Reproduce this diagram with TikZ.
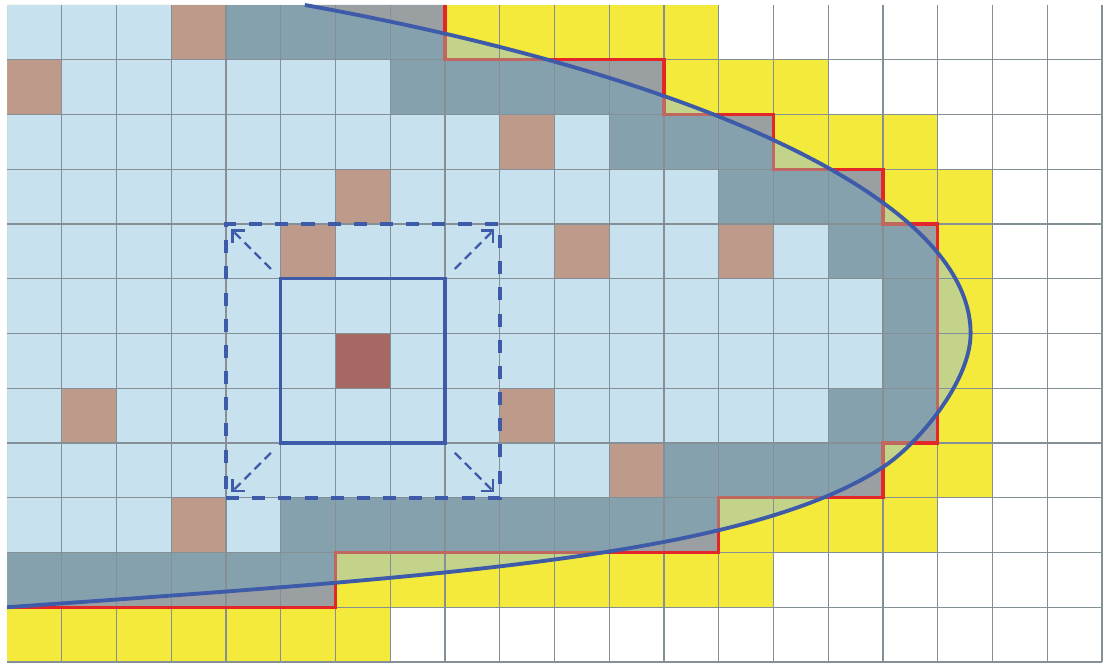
\documentclass[tikz,border=0pt]{standalone}
\usetikzlibrary{arrows.meta,calc}
\definecolor{cL}{HTML}{C8E1EE}
\definecolor{cT}{HTML}{BE9A8A}
\definecolor{cD}{HTML}{A56862}
\definecolor{cS}{HTML}{86A1AE}
\definecolor{cY}{HTML}{F4EA3B}
\definecolor{cW}{HTML}{FFFFFF}
\definecolor{cGray}{HTML}{9A9FA2}
\definecolor{cGreen}{HTML}{C3D38A}
\definecolor{cRed}{HTML}{E3262A}
\definecolor{cRedM}{HTML}{C0675F}
\definecolor{cBlue}{HTML}{3D5BA9}
\definecolor{cGrid}{HTML}{859096}
\tikzset{
  gridline/.style={cGrid, line width=0.55pt},
  redline/.style={cRed, line width=1.6pt, line join=miter},
  redmuted/.style={cRedM, line width=1.6pt, line join=miter},
  curveline/.style={cBlue, line width=2pt},
  solidsq/.style={draw=cBlue, line width=1.6pt, minimum size=3cm, inner sep=0pt, outer sep=0pt},
  dashsq/.style={draw=cBlue, line width=1.9pt, dash pattern=on 6.8pt off 6.8pt, minimum size=5cm, inner sep=0pt, outer sep=0pt},
  growarrow/.style={cBlue, line width=1.2pt, dash pattern=on 4.6pt off 2.8pt, -{Straight Barb[length=4.5pt,width=9pt]}}
}
\def\curveto{.. controls (12.44,-1.26) and (17.6,-3.5) .. (17.6,-6) .. controls (17.6,-6.9) and (16.6,-8.05) .. (16,-8.44) .. controls (13.5,-10.065) and (8,-10.44) .. (0,-11)}
\def\redpoly{(0,0) -- (8,0) -- (8,-1) -- (12,-1) -- (12,-2) -- (14,-2) -- (14,-3) -- (16,-3) -- (16,-4) -- (17,-4) -- (17,-8) -- (16,-8) -- (16,-9) -- (13,-9) -- (13,-10) -- (6,-10) -- (6,-11) -- (0,-11) -- cycle}
\def\redstair{(0,-11) -- (6,-11) -- (6,-10) -- (13,-10) -- (13,-9) -- (16,-9) -- (16,-8) -- (17,-8) -- (17,-4) -- (16,-4) -- (16,-3) -- (14,-3) -- (14,-2) -- (12,-2) -- (12,-1) -- (8,-1) -- (8,0)}
\def\insideclip{(-0.5,0.5) -- (5.44,0.5) -- (5.44,0) \curveto -- (-0.5,-11) -- cycle}
\def\outsideclip{(20.5,0.5) -- (5.44,0.5) -- (5.44,0) \curveto -- (-0.5,-11) -- (-0.5,-12.5) -- (20.5,-12.5) -- cycle}
\begin{document}
\begin{tikzpicture}[x=1cm,y=1cm]
\useasboundingbox[fill=white] (-0.128,0.091) rectangle (20.146,-12.146);
% cells
\foreach \r/\row in {
 0/{L,L,L,T,S,S,S,S,Y,Y,Y,Y,Y,W,W,W,W,W,W,W},
 1/{T,L,L,L,L,L,L,S,S,S,S,S,Y,Y,Y,W,W,W,W,W},
 2/{L,L,L,L,L,L,L,L,L,T,L,S,S,S,Y,Y,Y,W,W,W},
 3/{L,L,L,L,L,L,T,L,L,L,L,L,L,S,S,S,Y,Y,W,W},
 4/{L,L,L,L,L,T,L,L,L,L,T,L,L,T,L,S,S,Y,W,W},
 5/{L,L,L,L,L,L,L,L,L,L,L,L,L,L,L,L,S,Y,W,W},
 6/{L,L,L,L,L,L,D,L,L,L,L,L,L,L,L,L,S,Y,W,W},
 7/{L,T,L,L,L,L,L,L,L,T,L,L,L,L,L,S,S,Y,W,W},
 8/{L,L,L,L,L,L,L,L,L,L,L,T,S,S,S,S,Y,Y,W,W},
 9/{L,L,L,T,L,S,S,S,S,S,S,S,S,Y,Y,Y,Y,W,W,W},
 10/{S,S,S,S,S,S,Y,Y,Y,Y,Y,Y,Y,Y,W,W,W,W,W,W},
 11/{Y,Y,Y,Y,Y,Y,Y,W,W,W,W,W,W,W,W,W,W,W,W,W}}{
  \foreach \c [count=\i from 0] in \row {
    \fill[fill=c\c] (\i,-\r) rectangle ++(1,-1);
  }
}
% gray: inside the staircase, outside the curve
\begin{scope}
  \clip \outsideclip;
  \fill[cGray] \redpoly;
\end{scope}
% green: outside the staircase, inside the curve
\begin{scope}
  \clip \insideclip;
  \fill[cGreen, even odd rule] (0,0) rectangle (20,-12) \redpoly;
\end{scope}
% grid
\foreach \x in {1,...,20} \draw[gridline] (\x,0) -- (\x,-12);
\foreach \y in {1,...,12} \draw[gridline] (0,-\y) -- (20,-\y);
% staircase boundary
\draw[redline] \redstair;
\begin{scope}
  \clip \insideclip;
  \draw[redmuted] \redstair;
\end{scope}
% curve
\draw[curveline] (5.44,0) \curveto;
% squares
\node[solidsq] (inner) at (6.5,-6.5) {};
\node[dashsq] (outer) at (6.5,-6.5) {};
\draw[growarrow] ($(inner.north west)+(-0.18,0.18)$) -- ($(outer.north west)+(0.1,-0.1)$);
\draw[growarrow] ($(inner.north east)+(0.18,0.18)$) -- ($(outer.north east)+(-0.1,-0.1)$);
\draw[growarrow] ($(inner.south west)+(-0.18,-0.18)$) -- ($(outer.south west)+(0.1,0.1)$);
\draw[growarrow] ($(inner.south east)+(0.18,-0.18)$) -- ($(outer.south east)+(-0.1,0.1)$);
\end{tikzpicture}
\end{document}
